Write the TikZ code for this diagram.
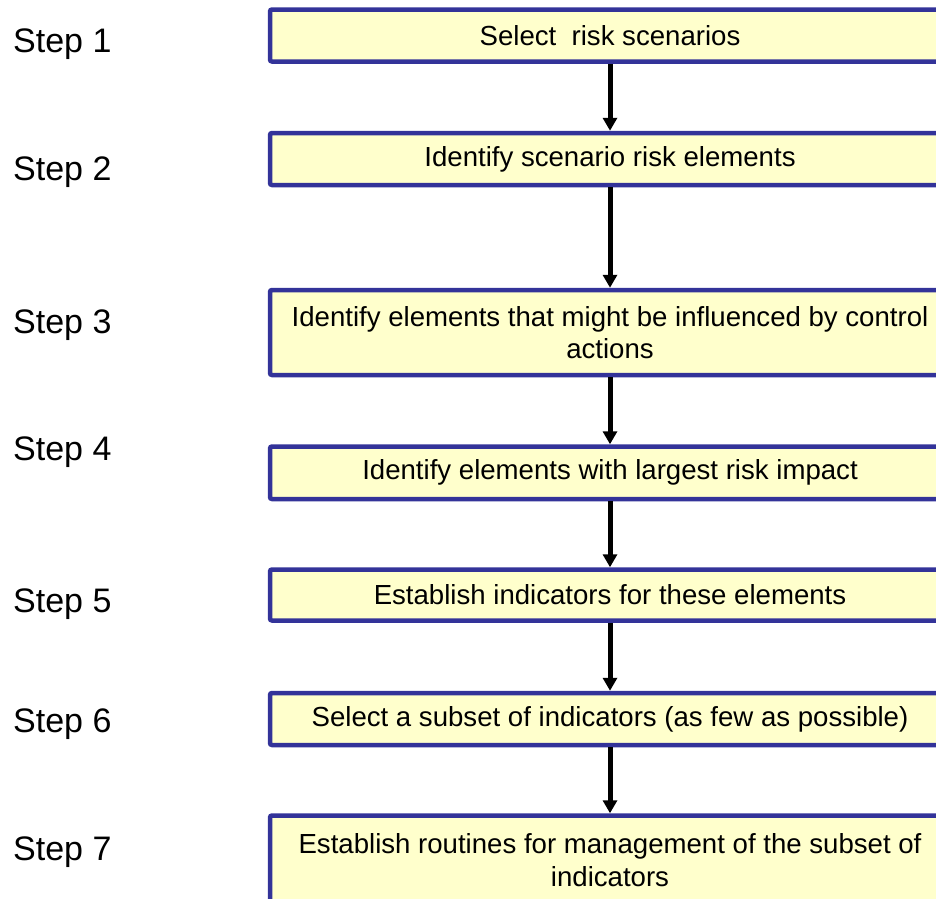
\documentclass[tikz,border=0pt]{standalone}
\usepackage{fontspec}
\setmainfont{Liberation Sans}
\usetikzlibrary{arrows.meta}
\definecolor{boxborder}{HTML}{333399}
\definecolor{boxfill}{HTML}{FFFFCC}
\begin{document}
\begin{tikzpicture}[x=1pt,y=-1pt,
  stepbox/.style={draw=boxborder, fill=boxfill, line width=4.5pt, rounded corners=2pt,
    minimum width=680pt, align=center, inner sep=0pt,
    font=\fontsize{27.6}{32}\selectfont},
  steplabel/.style={anchor=base west, inner sep=0pt, font=\fontsize{34}{40}\selectfont},
  flow/.style={line width=5pt, -{Triangle[width=14pt,length=13pt]}}]
\useasboundingbox (0,0) rectangle (936,898);
\clip (0,0) rectangle (936,898);
\fill[white] (0,0) rectangle (936,898);
% boxes (center y, height)
\node[stepbox, minimum height=52pt] (b1) at (610,35.5) {Select\ \ risk scenarios};
\node[stepbox, minimum height=52pt] (b2) at (610,159) {Identify scenario risk elements};
\node[stepbox, minimum height=85pt] (b3) at (610,332.5) {Identify elements that might be influenced by control\\actions};
\node[stepbox, minimum height=52.5pt] (b4) at (610,472.75) {Identify elements with largest risk impact};
\node[stepbox, minimum height=51pt] (b5) at (610,595) {Establish indicators for these elements};
\node[stepbox, minimum height=52pt] (b6) at (610,719) {Select a subset of indicators (as few as possible)};
\node[stepbox, minimum height=92pt] (b7) at (610,861.5) {};
\node[align=center, inner sep=0pt, font=\fontsize{27.6}{33}\selectfont] (t7) at (610,860) {Establish routines for management of the subset of\\indicators};
% step labels
\node[steplabel] (s1) at (13,52) {Step 1};
\node[steplabel] (s2) at (13,180) {Step 2};
\node[steplabel] (s3) at (13,333) {Step 3};
\node[steplabel] (s4) at (13,460) {Step 4};
\node[steplabel] (s5) at (13,612) {Step 5};
\node[steplabel] (s6) at (13,732) {Step 6};
\node[steplabel] (s7) at (13,860) {Step 7};
% arrows
\draw[flow] (b1.south) -- (b2.north);
\draw[flow] (b2.south) -- (b3.north);
\draw[flow] (b3.south) -- (b4.north);
\draw[flow] (b4.south) -- (b5.north);
\draw[flow] (b5.south) -- (b6.north);
\draw[flow] (b6.south) -- (b7.north);
\end{tikzpicture}
\end{document}
